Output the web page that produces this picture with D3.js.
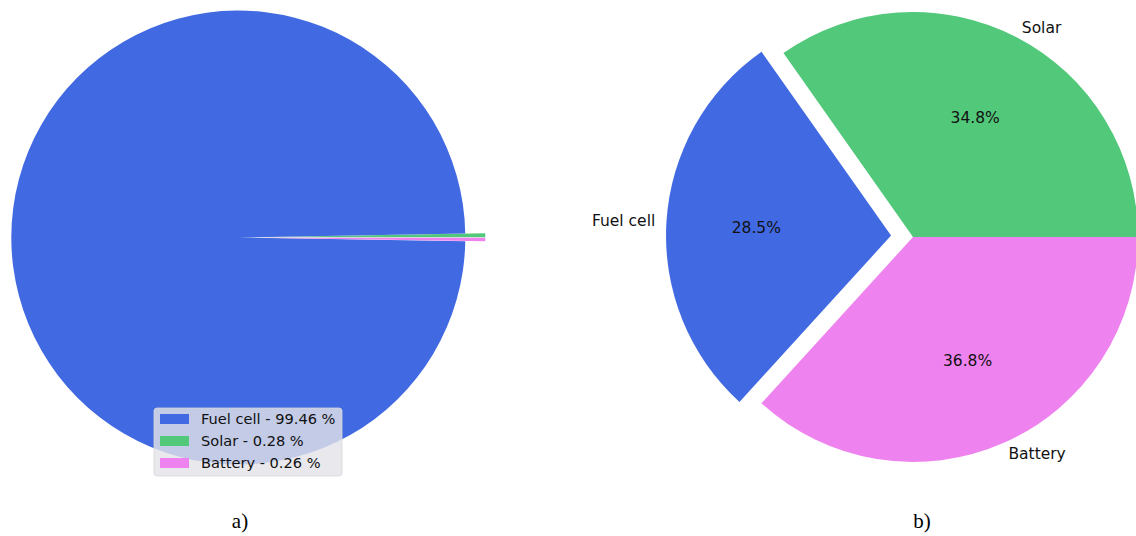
<!DOCTYPE html>
<html>
<head>
<meta charset="utf-8">
<script src="https://cdn.jsdelivr.net/npm/d3@7"></script>
<style>
  html, body { margin: 0; padding: 0; background: #fff; }
  svg { display: block; }
  text { font-family: "DejaVu Sans", sans-serif; fill: #111; }
</style>
</head>
<body>
<svg id="chart" width="1136" height="536"></svg>
<script>
// Energy share by source, drawn counter-clockwise from the east
const sources = ["Solar", "Fuel cell", "Battery"];
const colors = ["#52c87a", "#4169e1", "#ee82ee"];

// a) energy share (percent)
const shareA = [0.28, 99.46, 0.26];
const explodeA = [20, 0, 20];
const legendOrder = ["Fuel cell", "Solar", "Battery"];
const legendValues = ["99.46", "0.28", "0.26"];

// b) share (percent)
const shareB = [34.8, 28.5, 36.8];
const explodeB = [0, 22, 0];
const pctLabelsB = ["34.8%", "28.5%", "36.8%"];

const captions = ["a)", "b)"];

const svg = d3.select("#chart");
const color = d3.scaleOrdinal().domain(sources).range(colors);

// counter-clockwise from 3 o'clock
const pie = d3.pie().sort(null).value(d => d.v)
  .startAngle(Math.PI / 2).endAngle(Math.PI / 2 - 2 * Math.PI);

function dir(d) {
  const a = (d.startAngle + d.endAngle) / 2;
  return [Math.sin(a), -Math.cos(a)];
}

function drawPie(cx, cy, r, values, explode) {
  const g = svg.append("g").attr("transform", `translate(${cx},${cy})`);
  const arc = d3.arc().innerRadius(0).outerRadius(r);
  const data = pie(values.map((v, i) => ({ name: sources[i], v: v, ex: explode[i], i: i })));
  g.selectAll("path.slice").data(data).join("path")
    .attr("class", "slice")
    .attr("d", arc)
    .attr("fill", d => color(d.data.name))
    .attr("transform", d => {
      const [ux, uy] = dir(d);
      return `translate(${ux * d.data.ex},${uy * d.data.ex})`;
    });
  return { g, data };
}

// ---- a) ----
drawPie(238.3, 237.5, 227, shareA, explodeA);

// legend
const lg = svg.append("g").attr("transform", "translate(154,408)");
lg.append("rect").attr("width", 188).attr("height", 68).attr("rx", 3)
  .attr("fill", "rgba(228,228,232,0.8)").attr("stroke", "rgba(215,215,215,0.8)").attr("stroke-width", 1);
legendOrder.forEach((name, i) => {
  const row = lg.append("g").attr("transform", `translate(0,${11 + i * 22})`);
  row.append("rect").attr("x", 6).attr("y", -5).attr("width", 29).attr("height", 10)
    .attr("fill", color(name));
  row.append("text").attr("x", 47).attr("y", 0).attr("dy", "0.36em")
    .style("font-size", "14.6px").text(`${name} - ${legendValues[i]} %`);
});

// ---- b) ----
const R = 225;
const b = drawPie(913, 237, R, shareB, explodeB);
b.g.selectAll("text.name").data(b.data).join("text")
  .attr("class", "name")
  .attr("x", d => { const [ux] = dir(d); return ux * d.data.ex + ux * R * 1.05; })
  .attr("y", d => { const [, uy] = dir(d); return uy * d.data.ex + uy * R * 1.05; })
  .attr("dy", "0.36em")
  .attr("text-anchor", d => dir(d)[0] > 0 ? "start" : "end")
  .style("font-size", "15.5px")
  .text(d => d.data.name);
b.g.selectAll("text.pct").data(b.data).join("text")
  .attr("class", "pct")
  .attr("x", d => { const [ux] = dir(d); return ux * d.data.ex + ux * R * 0.6; })
  .attr("y", d => { const [, uy] = dir(d); return uy * d.data.ex + uy * R * 0.6; })
  .attr("dy", "0.36em")
  .attr("text-anchor", "middle")
  .style("font-size", "15.5px")
  .text(d => pctLabelsB[d.data.i]);

// captions
svg.selectAll("text.cap").data(captions).join("text")
  .attr("class", "cap")
  .attr("x", (d, i) => [240, 922][i])
  .attr("y", 528)
  .attr("text-anchor", "middle")
  .style("font-family", "'Liberation Serif', serif")
  .style("font-size", "21px")
  .style("fill", "#000")
  .text(d => d);
</script>
</body>
</html>
